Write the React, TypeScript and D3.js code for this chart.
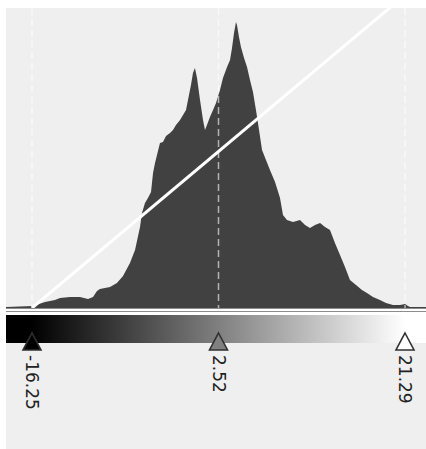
import React from "react";
import * as d3 from "d3";

// histogram samples: value -> count
const binValues = [
  -18.87, -16.15, -15.85, -14.94, -13.94, -13.43, -12.43, -11.42, -10.61, -10.11,
  -9.71, -9.41, -8.4, -7.7, -7.09, -6.39, -5.88, -5.38, -5.18, -4.88,
  -4.58, -4.27, -4.07, -3.87, -3.37, -3.07, -2.76, -2.36, -2.06, -1.76,
  -1.35, -1.05, -0.75, -0.55, -0.25, -0.05, 0.15, 0.36, 0.66, 0.96,
  1.16, 1.36, 1.66, 1.97, 2.27, 2.67, 2.97, 3.38, 3.68, 3.88,
  4.08, 4.28, 4.38, 4.58, 4.78, 5.09, 5.39, 5.69, 5.99, 6.29,
  6.6, 6.9, 7.3, 7.7, 8.21, 8.71, 9.01, 9.41, 10.02, 10.72,
  11.23, 11.73, 12.23, 12.74, 13.24, 13.74, 14.24, 14.75, 15.25, 15.75,
  16.36, 16.96, 17.46, 18.07, 18.77, 19.38, 20.08, 20.79, 21.29, 21.59,
  21.79, 23.4,
];
const binCounts = [
  1, 2, 3, 6, 8, 10, 11, 11, 9, 11,
  17, 19, 21, 25, 32, 45, 58, 81, 95, 105,
  110, 116, 135, 145, 165, 166, 172, 175, 178, 183,
  188, 193, 198, 208, 223, 235, 240, 230, 208, 188,
  178, 183, 191, 198, 205, 218, 230, 241, 248, 260,
  275, 286, 283, 271, 261, 250, 241, 228, 216, 198,
  178, 158, 148, 138, 126, 110, 93, 88, 86, 88,
  83, 80, 83, 85, 81, 78, 65, 53, 41, 28,
  23, 18, 15, 11, 8, 5, 3, 3, 4, 2,
  1, 1,
];

const markerValues = [-16.25, 2.52, 21.29];
const markerLabels = ["-16.25", "2.52", "21.29"];
const markerFills = ["#000000", "#808080", "#ffffff"];

const W = 426;
const H = 449;

export default function App() {
  const left = 6;
  const top = 8;
  const base = 308;
  const lo = markerValues[0];
  const hi = markerValues[2];

  const x = d3.scaleLinear().domain([lo, hi]).range([32, 405]);
  const yMax = 313;
  const y = d3.scaleLinear().domain([0, yMax]).range([base, -5]);

  const pts = binValues.map((v, i) => [v, binCounts[i]] as [number, number]);
  const area = d3
    .area<[number, number]>()
    .x((d) => x(d[0]))
    .y0(base)
    .y1((d) => y(d[1]));

  const diag = d3
    .line<[number, number]>()
    .x((d) => x(d[0]))
    .y((d) => y(d[1]));

  const tri = (cx: number) =>
    `M${cx},333 L${cx + 9},350 L${cx - 9},350 Z`;

  return (
    <svg
      width={W}
      height={H}
      style={{ position: "absolute", left: 0, top: 0, background: "#ffffff" }}
    >
      <defs>
        <clipPath id="plotClip">
          <rect x={left} y={top} width={W - left} height={base - top} />
        </clipPath>
        <linearGradient
          id="grey"
          gradientUnits="userSpaceOnUse"
          x1={x(lo)}
          x2={x(hi)}
          y1={0}
          y2={0}
        >
          <stop offset="0%" stopColor="#000" />
          <stop offset="100%" stopColor="#fff" />
        </linearGradient>
      </defs>
      <rect x={left} y={top} width={W - left} height={H - top} fill="#efefef" />

      <g clipPath="url(#plotClip)">
        <path d={area(pts) || ""} fill="#414141" />
        {markerValues.map((v, i) => (
          <line
            key={i}
            x1={x(v)}
            x2={x(v)}
            y1={top}
            y2={base}
            stroke="#ffffff"
            strokeOpacity={0.6}
            strokeWidth={1.5}
            strokeDasharray="7,4"
          />
        ))}
        <path
          d={diag([[lo, 0], [hi, yMax]]) || ""}
          fill="none"
          stroke="#ffffff"
          strokeWidth={3}
        />
      </g>

      {/* separator lines under the histogram */}
      <rect x={left} y={308} width={W - left} height={7} fill="#ffffff" />
      <line x1={left} x2={W} y1={308.5} y2={308.5} stroke="#8c8c8c" />
      <line x1={left} x2={W} y1={311.5} y2={311.5} stroke="#8c8c8c" />

      {/* colour bar */}
      <rect x={left} y={315} width={W - left} height={28} fill="url(#grey)" />

      {markerValues.map((v, i) => (
        <g key={i}>
          <path
            d={tri(x(v))}
            fill={markerFills[i]}
            stroke="#303030"
            strokeWidth={1.6}
            strokeLinejoin="miter"
          />
          <text
            transform={`translate(${x(v)},355) rotate(90)`}
            dominantBaseline="central"
            fontFamily="DejaVu Sans"
            fontSize={17}
            fill="#222"
          >
            {markerLabels[i]}
          </text>
        </g>
      ))}
    </svg>
  );
}
